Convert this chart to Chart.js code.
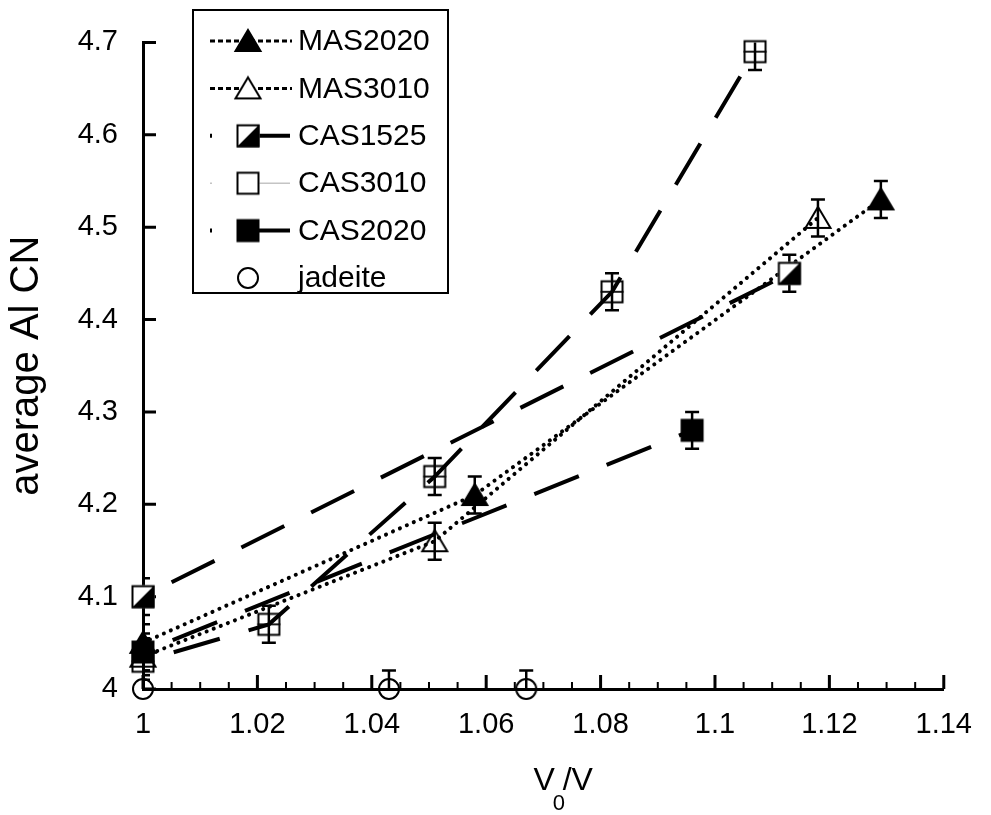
<!DOCTYPE html>
<html>
<head>
<meta charset="utf-8">
<title>average Al CN vs V0/V</title>
<script src="https://cdn.jsdelivr.net/npm/chart.js@4.4.1/dist/chart.umd.min.js"></script>
<style>
    html, body { margin: 0; padding: 0; background: #fff; }
    #wrap { width: 991px; height: 815px; }
</style>
</head>
<body>
<div id="wrap"><canvas id="cnChart" width="991" height="815"></canvas></div>
<script>
// ===== V0/V and average Al CN per glass =====
const mas2020X = [1, 1.058, 1.129];
const mas2020Y = [4.05, 4.21, 4.53];
const mas2020Err = [0.02, 0.02, 0.02];

const mas3010X = [1, 1.051, 1.118];
const mas3010Y = [4.035, 4.16, 4.51];
const mas3010Err = [0.02, 0.02, 0.02];

const cas1525X = [1, 1.113];
const cas1525Y = [4.10, 4.45];
const cas1525Err = [0.02, 0.02];

const cas3010X = [1, 1.022, 1.051, 1.082, 1.107];
const cas3010Y = [4.03, 4.07, 4.23, 4.43, 4.69];
const cas3010Err = [0.02, 0.02, 0.02, 0.02, 0.02];

const cas2020X = [1, 1.096];
const cas2020Y = [4.04, 4.28];
const cas2020Err = [0.02, 0.02];

const jadeiteX = [1, 1.043, 1.067];
const jadeiteY = [4, 4, 4];
const jadeiteErr = [0.02, 0.02, 0.02];

// ===== Axis ticks =====
const xTicks = [1, 1.02, 1.04, 1.06, 1.08, 1.1, 1.12, 1.14];
const xTickLabels = ['1', '1.02', '1.04', '1.06', '1.08', '1.1', '1.12', '1.14'];
const yTicks = [4, 4.1, 4.2, 4.3, 4.4, 4.5, 4.6, 4.7];
const yTickLabels = ['4', '4.1', '4.2', '4.3', '4.4', '4.5', '4.6', '4.7'];
const xMinorPerMajor = 4;

const FONT = '"Liberation Sans", Arial, sans-serif';

// ===== Marker symbols =====
function makeMarker(kind, whiteBack) {
    const c = document.createElement('canvas');
    c.width = 32; c.height = 32;
    const g = c.getContext('2d');
    const m = 16, h = 11.5;
    g.strokeStyle = '#000';
    g.fillStyle = '#000';
    g.lineWidth = 2;

    if (kind === 'triFilled' || kind === 'triOpen') {
        g.beginPath();
        g.moveTo(m, m - 11);
        g.lineTo(m + 12.5, m + 10);
        g.lineTo(m - 12.5, m + 10);
        g.closePath();
        if (kind === 'triFilled') {
            g.fill();
        } else if (whiteBack) {
            g.fillStyle = '#fff';
            g.fill();
        }
        g.stroke();
    } else if (kind === 'sqFilled') {
        g.fillRect(m - h, m - h, 2 * h, 2 * h);
    } else if (kind === 'sqHalf') {
        g.fillStyle = '#fff';
        g.fillRect(m - h, m - h, 2 * h, 2 * h);
        g.fillStyle = '#000';
        g.beginPath();
        g.moveTo(m - h, m + h);
        g.lineTo(m + h, m - h);
        g.lineTo(m + h, m + h);
        g.closePath();
        g.fill();
        g.strokeRect(m - h + 1, m - h + 1, 2 * h - 2, 2 * h - 2);
    } else if (kind === 'sqOpen') {
        if (whiteBack) {
            g.fillStyle = '#fff';
            g.fillRect(m - h, m - h, 2 * h, 2 * h);
        }
        g.strokeRect(m - h + 1, m - h + 1, 2 * h - 2, 2 * h - 2);
        if (!whiteBack) {
            g.lineWidth = 1.8;
            g.beginPath();
            g.moveTo(m - h, m);
            g.lineTo(m + h, m);
            g.stroke();
        }
    } else if (kind === 'circle') {
        g.beginPath();
        g.arc(m, m, 10, 0, Math.PI * 2);
        if (whiteBack) {
            g.fillStyle = '#fff';
            g.fill();
        }
        g.stroke();
    }
    return c;
}

const toPoints = (xs, ys) => xs.map((v, i) => ({ x: v, y: ys[i] }));

const dotted = { borderDash: [0.1, 7.5], borderCapStyle: 'round', borderWidth: 4 };
const longDash = { borderDash: [48, 30], borderDashOffset: 46, borderCapStyle: 'butt', borderWidth: 4 };

// ===== Error bars, drawn under the symbols =====
const errorBars = {
    id: 'errorBars',
    beforeDatasetsDraw(chart) {
        const { ctx, chartArea, scales: { x, y } } = chart;
        ctx.save();
        ctx.beginPath();
        ctx.rect(chartArea.left, chartArea.top, chartArea.right - chartArea.left, chartArea.bottom - chartArea.top);
        ctx.clip();
        ctx.strokeStyle = '#000';
        ctx.lineWidth = 2.5;
        chart.data.datasets.forEach(ds => {
            if (!ds.yErr) return;
            ds.data.forEach((p, i) => {
                const px = x.getPixelForValue(p.x);
                const top = y.getPixelForValue(p.y + ds.yErr[i]);
                const bot = y.getPixelForValue(p.y - ds.yErr[i]);
                ctx.beginPath();
                ctx.moveTo(px, top); ctx.lineTo(px, bot);
                ctx.moveTo(px - 7, top); ctx.lineTo(px + 7, top);
                ctx.moveTo(px - 7, bot); ctx.lineTo(px + 7, bot);
                ctx.stroke();
            });
        });
        ctx.restore();
    }
};

// ===== Tick marks pointing into the plot =====
const inwardTicks = {
    id: 'inwardTicks',
    beforeDatasetsDraw(chart) {
        const { ctx, chartArea, scales: { x, y } } = chart;
        ctx.save();
        ctx.strokeStyle = '#000';
        ctx.lineWidth = 3;
        ctx.beginPath();
        xTicks.forEach(v => {
            const px = x.getPixelForValue(v);
            ctx.moveTo(px, chartArea.bottom);
            ctx.lineTo(px, chartArea.bottom - 14);
        });
        yTicks.forEach(v => {
            const py = y.getPixelForValue(v);
            ctx.moveTo(chartArea.left, py);
            ctx.lineTo(chartArea.left + 13, py);
        });
        ctx.stroke();

        ctx.lineWidth = 2;
        ctx.beginPath();
        for (let i = 0; i < xTicks.length - 1; i++) {
            const step = (xTicks[i + 1] - xTicks[i]) / xMinorPerMajor;
            for (let k = 1; k < xMinorPerMajor; k++) {
                const px = x.getPixelForValue(xTicks[i] + k * step);
                ctx.moveTo(px, chartArea.bottom);
                ctx.lineTo(px, chartArea.bottom - 7);
            }
        }
        ctx.stroke();
        ctx.restore();
    }
};

// ===== x title with subscript =====
const xTitle = {
    id: 'xTitle',
    afterDraw(chart) {
        const { ctx, chartArea } = chart;
        const big = '32px ' + FONT;
        const small = '22px ' + FONT;
        ctx.save();
        ctx.fillStyle = '#000';
        ctx.textAlign = 'left';
        ctx.textBaseline = 'alphabetic';
        ctx.font = big;
        const wV = ctx.measureText('V').width;
        const base = chartArea.bottom + 101;
        const x0 = (chartArea.left + chartArea.right) / 2 - 10;
        ctx.fillText('V', x0, base);
        ctx.fillText('/V', x0 + wV + 8, base);
        ctx.font = small;
        ctx.fillText('0', x0 + wV - 2, base + 20);
        ctx.restore();
    }
};

// ===== Boxed legend =====
const boxLegend = {
    id: 'boxLegend',
    afterDraw(chart) {
        const { ctx } = chart;
        const left = 193, top = 10, w = 255, h = 283;
        ctx.save();
        ctx.fillStyle = '#fff';
        ctx.fillRect(left, top, w, h);
        ctx.strokeStyle = '#000';
        ctx.lineWidth = 2;
        ctx.strokeRect(left, top, w, h);

        chart.data.datasets.forEach((ds, i) => {
            const cy = top + 31 + i * 47.4;
            if (ds.showLine) {
                ctx.beginPath();
                ctx.setLineDash(ds.legendDash || ds.borderDash || []);
                ctx.lineDashOffset = ds.borderDashOffset || 0;
                ctx.lineCap = ds.legendDash ? 'butt' : (ds.borderCapStyle || 'butt');
                ctx.lineWidth = ds.legendLineWidth || ds.borderWidth;
                ctx.strokeStyle = ds.legendLineColor || ds.borderColor;
                ctx.moveTo(left + 17, cy);
                ctx.lineTo(left + 99, cy);
                ctx.stroke();
                ctx.setLineDash([]);
            }
            const img = ds.legendMarker;
            ctx.drawImage(img, left + 55 - img.width / 2, cy - img.height / 2);
            ctx.fillStyle = '#000';
            ctx.font = '30px ' + FONT;
            ctx.textAlign = 'left';
            ctx.textBaseline = 'middle';
            ctx.fillText(ds.label, left + 105, cy + 1);
        });
        ctx.restore();
    }
};

const datasets = [
    {
        label: 'MAS2020', data: toPoints(mas2020X, mas2020Y), yErr: mas2020Err,
        pointStyle: makeMarker('triFilled'), legendMarker: makeMarker('triFilled', true),
        legendDash: [5, 3], legendLineWidth: 3,
        ...dotted
    },
    {
        label: 'MAS3010', data: toPoints(mas3010X, mas3010Y), yErr: mas3010Err,
        pointStyle: makeMarker('triOpen'), legendMarker: makeMarker('triOpen', true),
        legendDash: [5, 3], legendLineWidth: 3,
        ...dotted
    },
    {
        label: 'CAS1525', data: toPoints(cas1525X, cas1525Y), yErr: cas1525Err,
        pointStyle: makeMarker('sqHalf'), legendMarker: makeMarker('sqHalf', true),
        order: -1,
        ...longDash
    },
    {
        label: 'CAS3010', data: toPoints(cas3010X, cas3010Y), yErr: cas3010Err,
        pointStyle: makeMarker('sqOpen'), legendMarker: makeMarker('sqOpen', true),
        legendLineColor: '#c4c4c4', legendLineWidth: 1.5,
        ...longDash
    },
    {
        label: 'CAS2020', data: toPoints(cas2020X, cas2020Y), yErr: cas2020Err,
        pointStyle: makeMarker('sqFilled'), legendMarker: makeMarker('sqFilled', true),
        order: -2,
        ...longDash
    },
    {
        label: 'jadeite', data: toPoints(jadeiteX, jadeiteY), yErr: jadeiteErr,
        pointStyle: makeMarker('circle'), legendMarker: makeMarker('circle', true),
        showLine: false
    }
].map(ds => Object.assign({
    showLine: true,
    borderColor: '#000',
    backgroundColor: '#000',
    pointRadius: 12,
    pointHoverRadius: 12,
    tension: 0,
    fill: false,
    clip: false
}, ds));

const tickFont = { family: FONT, size: 29 };

new Chart(document.getElementById('cnChart'), {
    type: 'scatter',
    data: { datasets },
    options: {
        responsive: false,
        animation: false,
        events: [],
        layout: { padding: { top: 20, right: 41, left: 0, bottom: 0 } },
        plugins: {
            legend: { display: false },
            tooltip: { enabled: false }
        },
        scales: {
            x: {
                type: 'linear',
                min: 1,
                max: 1.14,
                afterFit(scale) { scale.height = 126; },
                afterBuildTicks(scale) { scale.ticks = xTicks.map(v => ({ value: v })); },
                ticks: {
                    autoSkip: false,
                    maxRotation: 0,
                    minRotation: 0,
                    padding: 19,
                    color: '#000',
                    font: tickFont,
                    callback: (value, index) => xTickLabels[index]
                },
                grid: { display: true, drawOnChartArea: false, drawTicks: false, color: 'rgba(0,0,0,0)' },
                border: { display: true, color: '#000', width: 3 }
            },
            y: {
                type: 'linear',
                min: 4,
                max: 4.7,
                afterFit(scale) { scale.width = 143; },
                afterBuildTicks(scale) { scale.ticks = yTicks.map(v => ({ value: v })); },
                ticks: {
                    autoSkip: false,
                    padding: 25,
                    color: '#000',
                    font: tickFont,
                    callback: (value, index) => yTickLabels[index]
                },
                title: {
                    display: true,
                    text: 'average Al CN',
                    color: '#000',
                    font: { family: FONT, size: 40 },
                    padding: { top: 3, bottom: 0 }
                },
                grid: { display: true, drawOnChartArea: false, drawTicks: false, color: 'rgba(0,0,0,0)' },
                border: { display: true, color: '#000', width: 3 }
            }
        }
    },
    plugins: [errorBars, inwardTicks, xTitle, boxLegend]
});
</script>
</body>
</html>
